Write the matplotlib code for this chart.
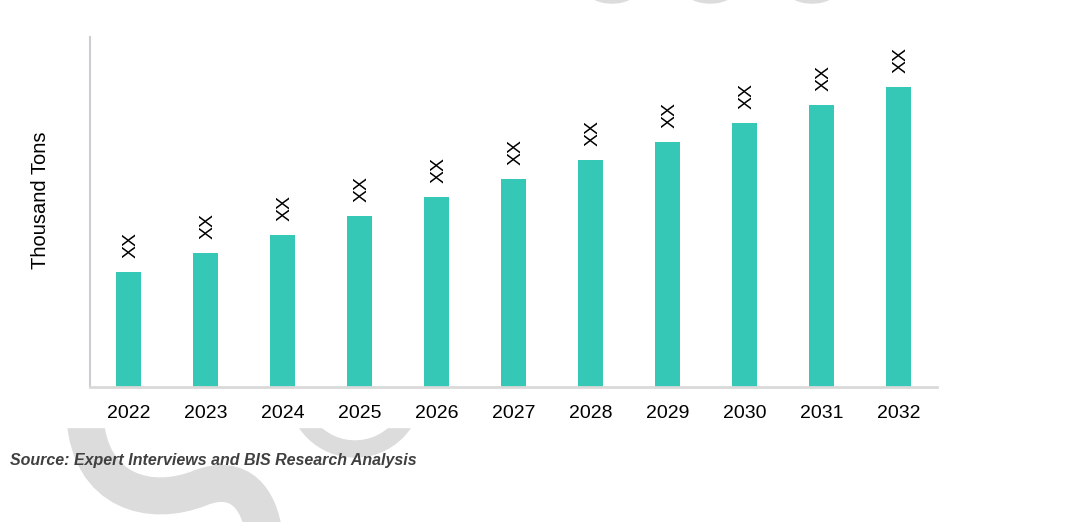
import matplotlib.pyplot as plt
from matplotlib.path import Path
from matplotlib import patches

plt.rcParams['font.family'] = ['Liberation Sans', 'DejaVu Sans']

years = ['2022', '2023', '2024', '2025', '2026', '2027',
         '2028', '2029', '2030', '2031', '2032']
values = [115, 134, 152, 171, 190, 208, 227, 245, 264, 282, 300]
bar_labels = ['XX'] * len(years)

bar_color = '#36c8b6'
wm_color = '#dcdcdc'

fig = plt.figure(figsize=(10.83, 5.22), dpi=100)

# watermark layer, in pixel coordinates
bg = fig.add_axes([0, 0, 1, 1], zorder=-1)
bg.set_xlim(0, 1083)
bg.set_ylim(522, 0)
bg.axis('off')

s_path = Path([(85, 418), (90, 492), (150, 508), (200, 488),
               (240, 472), (260, 500), (264, 535)],
              [Path.MOVETO, Path.CURVE4, Path.CURVE4, Path.CURVE4,
               Path.CURVE4, Path.CURVE4, Path.CURVE4])
bg.add_patch(patches.PathPatch(s_path, fill=False, edgecolor=wm_color,
                               lw=37 * 0.72, capstyle='butt'))
bg.add_patch(patches.Annulus((355, 390), 67, 16, color=wm_color))
for cx in [612, 710, 812]:
    bg.add_patch(patches.Ellipse((cx, -8), 46, 22, color=wm_color))
# chart area covers the watermark
bg.add_patch(patches.Rectangle((0, 5), 1083, 422, color='white', zorder=5))

ax = fig.add_axes([90 / 1083, 1 - 387 / 522, 847 / 1083, 350 / 522])
ax.patch.set_alpha(0)
x = range(len(years))
bars = ax.bar(x, values, width=0.32, color=bar_color, zorder=2)

for xi, v, lab in zip(x, values, bar_labels):
    ax.annotate(lab, (xi, v), xytext=(2, 10), textcoords='offset points',
                ha='center', va='bottom', rotation=90, fontsize=14,
                color='black')

ax.set_xlim(-0.5, len(years) - 0.5)
ax.set_ylim(0, 350)
ax.set_xticks(list(x))
ax.set_xticklabels(years, fontsize=14)
ax.tick_params(axis='x', length=0, pad=13)
ax.set_yticks([])

for side in ['top', 'right']:
    ax.spines[side].set_visible(False)
ax.spines['left'].set_color('#c8ced2')
ax.spines['left'].set_linewidth(1.5)
ax.spines['bottom'].set_color('#d9d9d9')
ax.spines['bottom'].set_linewidth(2)

fig.text(40 / 1083, 1 - 200 / 522, 'Thousand Tons', rotation=90,
         ha='center', va='center', fontsize=14.5)
fig.text(10 / 1083, 1 - 461 / 522,
         'Source: Expert Interviews and BIS Research Analysis',
         ha='left', va='center', fontsize=11.5, fontweight='bold',
         fontstyle='italic', color='#404040')

fig.savefig('out.png', dpi=100)
